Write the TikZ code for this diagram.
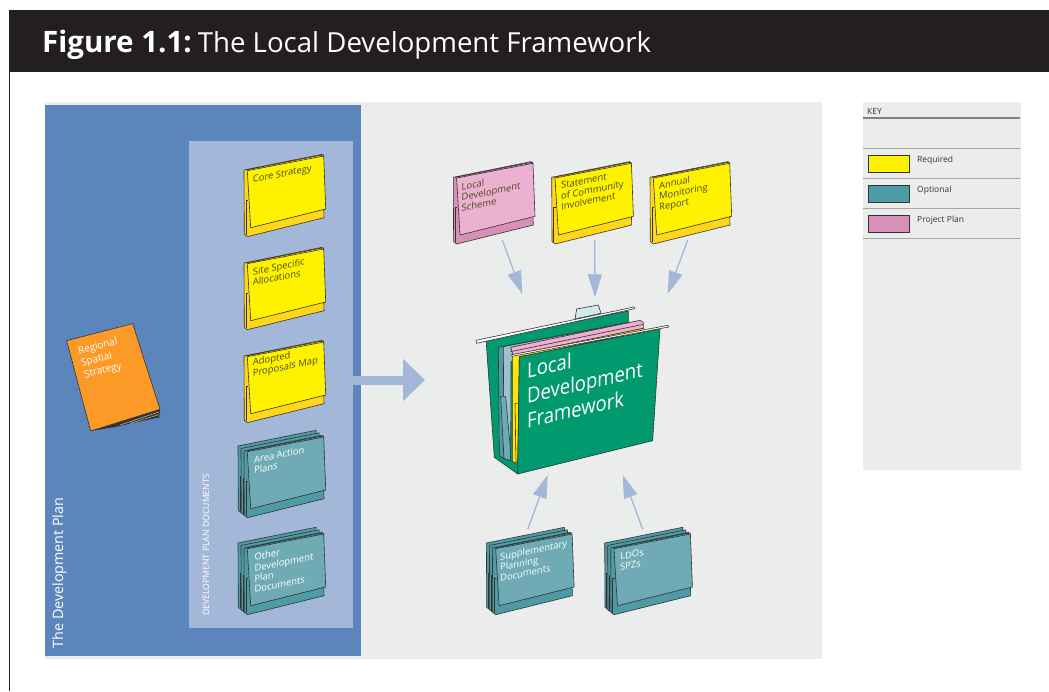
\documentclass[tikz,border=0pt]{standalone}
\usepackage{fontspec}
\setmainfont{Open Sans}
\usetikzlibrary{arrows.meta}
\definecolor{hdr}{HTML}{231F20}
\definecolor{panel}{HTML}{EBEDED}
\definecolor{dpblue}{HTML}{5C86BB}
\definecolor{docblue}{HTML}{A3B7D9}
\definecolor{yfront}{HTML}{FFF200}
\definecolor{yback}{HTML}{FFD619}
\definecolor{tfront}{HTML}{6FABB5}
\definecolor{tback}{HTML}{4E9BA5}
\definecolor{pfront}{HTML}{ECB0D0}
\definecolor{pback}{HTML}{D88FB8}
\definecolor{orng}{HTML}{FC9A28}
\definecolor{fgreen}{HTML}{009A6E}
\definecolor{ink}{HTML}{333333}
\definecolor{ytext}{HTML}{4A4A20}
\definecolor{tabcol}{HTML}{D5E8E8}
\definecolor{sheetgrey}{HTML}{9FC0C8}
\tikzset{
  edge/.style={draw=ink,line width=0.6pt,line join=round},
  doclabel/.style={anchor=north west,inner sep=0pt,yslant=0.2,align=left,font=\fontsize{9.4}{10.6}\selectfont},
  darklabel/.style={doclabel,text=ytext},
  lightlabel/.style={doclabel,text=white},
  flow/.style={draw=docblue,line width=1.3pt,-{Triangle[length=23pt,width=14pt]}},
  keyrule/.style={draw=gray!70,line width=0.7pt},
  swatch/.style={draw=ink,line width=1pt,minimum width=41pt,minimum height=17pt,inner sep=0pt,anchor=north west},
  keytext/.style={anchor=west,inner sep=0pt,text=ink,font=\fontsize{8.5}{10}\selectfont}
}
\newcommand{\docback}[1]{%
  \filldraw[edge,fill=#1] (0,16) -- (78,0.3) -- (80,63.7) -- (3.3,82.7) -- (0.3,80.3) -- cycle;
  \draw[edge] (1.8,46) -- (3.9,46) (1.8,46) -- (1.8,81);}
\newcommand{\docfolder}[4]{%
  \begin{scope}[shift={(#1,#2)}]
    \docback{#3}
    \draw[edge] (1.8,16) -- (79,0.8) -- (79.7,2);
    \filldraw[edge,fill=#4] (3.3,16.7) -- (79.7,2) -- (81.7,55) -- (6.7,73.7) -- cycle;
  \end{scope}}
\newcommand{\tripfolder}[4]{%
  \begin{scope}[shift={(#1,#2)}]
    \begin{scope}[shift={(-6,-5)}]\docback{#3}\end{scope}
    \begin{scope}[shift={(-3,-2.5)}]\docback{#3}\end{scope}
  \end{scope}
  \docfolder{#1}{#2}{#3}{#4}}
\begin{document}
\begin{tikzpicture}[x=1pt,y=-1pt]
\useasboundingbox (0,0) rectangle (1049,691);
\fill[white] (0,0) rectangle (1049,691);
% header
\fill[hdr] (10,10) rectangle (1049,72);
\draw[hdr,line width=1pt] (9.5,10) -- (9.5,691);
\node[anchor=base west,inner sep=0pt,text=white,font=\fontsize{27.6}{30}\selectfont] (title) at (42,52) {{\fontsize{29.5}{30}\selectfont\bfseries Figure 1.1:}\hspace{-3.5pt} The Local Development Framework};
% panels
\fill[panel] (45,102) rectangle (822,659);
\fill[dpblue] (45,105) rectangle (361,656);
\fill[docblue] (189,141) rectangle (353,628);
\node[rotate=90,anchor=base west,inner sep=0pt,text=white,font=\fontsize{14.3}{16}\selectfont] (dplan) at (63,648.5) {The Development Plan};
\node[rotate=90,anchor=base west,inner sep=0pt,text=white,font=\fontsize{8.7}{10}\selectfont] (dpd) at (209,616) {DEVELOPMENT PLAN DOCUMENTS};
% regional spatial strategy
\begin{scope}[shift={(50,310)},x=0.3333pt,y=-0.3333pt]
  \fill[ink] (122,363) -- (330,298) -- (328,322) -- (190,352) -- cycle;
  \draw[white!75!black,line width=0.5pt] (210,345) -- (327,306);
  \draw[white!75!black,line width=0.5pt] (240,340) -- (327,314);
  \filldraw[edge,fill=orng] (50,92) -- (248,41) -- (330,298) -- (122,363) -- cycle;
\end{scope}
\node[anchor=north west,inner sep=0pt,rotate=14,align=left,text=white,font=\fontsize{10}{12.4}\selectfont] (rss) at (77,346.5) {Regional\\Spatial\\Strategy};
% development plan documents
\docfolder{244}{154}{yback}{yfront}
\docfolder{244}{247}{yback}{yfront}
\docfolder{244}{340}{yback}{yfront}
\tripfolder{244}{435}{tback}{tfront}
\tripfolder{244}{532}{tback}{tfront}
\node[darklabel] (core) at (252.7,176) {Core Strategy};
\node[darklabel] (site) at (252.7,268) {Site Specific\\Allocations};
\node[darklabel] (adopted) at (252.7,358.5) {Adopted\\Proposals Map};
\node[lightlabel] (aap) at (254,456) {Area Action\\Plans};
\node[lightlabel] (other) at (254.3,553.5) {Other\\Development\\Plan\\Documents};
% top row
\docfolder{453.3}{161.3}{pback}{pfront}
\docfolder{551.7}{161.3}{yback}{yfront}
\docfolder{650}{161.3}{yback}{yfront}
\node[darklabel] (lds) at (461.5,183) {Local\\Development\\Scheme};
\node[darklabel] (sci) at (561,182) {Statement\\of Community\\Involvement};
\node[darklabel] (amr) at (659,182) {Annual\\Monitoring\\Report};
% bottom row
\tripfolder{492.4}{532}{tback}{tfront}
\tripfolder{610.7}{532}{tback}{tfront}
\node[lightlabel] (spd) at (500,553) {Supplementary\\Planning\\Documents};
\node[lightlabel] (ldo) at (620,553) {LDOs\\SPZs};
% main folder
\begin{scope}[shift={(465,295)},x=0.3333pt,y=-0.3333pt]
  \filldraw[edge,fill=tabcol] (330,72) -- (335,42) -- (400,30) -- (408,55) -- cycle;
  \filldraw[edge,fill=fgreen] (63,132) -- (490,48) -- (490,100) -- (158,537) -- (88,487) -- cycle;
  \filldraw[edge,fill=white] (33,136) -- (507,36) -- (509,41) -- (34,145) -- cycle;
  \filldraw[edge,fill=tback] (100,157) -- (490,82) -- (490,110) -- (115,200) -- (118,492) -- (103,482) -- cycle;
  \filldraw[edge,fill=sheetgrey] (115,155) -- (510,80) -- (510,110) -- (138,200) -- (137,497) -- (117,490) -- cycle;
  \filldraw[edge,fill=tfront] (107,305) -- (122,305) -- (135,450) -- (137,497) -- (117,490) -- cycle;
  \filldraw[edge,fill=pfront] (137,157) -- (525,76) -- (535,82) -- (535,100) -- (145,182) -- cycle;
  \draw[edge] (137,170) -- (535,88);
  \filldraw[edge,fill=yfront!50!yback] (142,180) -- (535,100) -- (535,106) -- (163,188) -- (158,505) -- (142,500) -- cycle;
  \draw[edge] (150,325) -- (158,325) (150,325) -- (153,503);
  \filldraw[edge,fill=fgreen] (163,185) -- (585,102) -- (563,437) -- (158,537) -- cycle;
  \filldraw[edge,fill=white] (140,179) -- (609,91) -- (611,96) -- (141,184) -- cycle;
\end{scope}
\node[anchor=north west,inner sep=0pt,xscale=0.88,yslant=0.2,align=left,text=white,font=\fontsize{21}{25}\selectfont] (ldf) at (527,362) {Local\\Development\\Framework};
% connectors
\coordinate (a1s) at (502.3,240); \coordinate (a1e) at (522.3,294);
\coordinate (a2s) at (594.7,240); \coordinate (a2e) at (595,297.3);
\coordinate (a3s) at (687.7,240); \coordinate (a3e) at (667.7,294);
\coordinate (a4s) at (527.7,529.3); \coordinate (a4e) at (547.7,475);
\coordinate (a5s) at (642.7,529.3); \coordinate (a5e) at (622.7,475);
\coordinate (a6s) at (352,380); \coordinate (a6e) at (425,380);
\draw[flow] (a1s) -- (a1e);
\draw[flow] (a2s) -- (a2e);
\draw[flow] (a3s) -- (a3e);
\draw[flow] (a4s) -- (a4e);
\draw[flow] (a5s) -- (a5e);
\draw[draw=docblue,line width=9pt,-{Triangle[length=22pt,width=41pt]}] (a6s) -- (a6e);
% key
\fill[panel] (863,102) rectangle (1021,470);
\node[anchor=west,inner sep=0pt,text=ink,font=\fontsize{8.5}{10}\selectfont] (keyt) at (867,111) {KEY};
\draw[draw=gray,line width=1.2pt] (862.5,118) -- (1020,118);
\draw[keyrule] (862.5,148.3) -- (1020,148.3);
\draw[keyrule] (862.5,178.3) -- (1020,178.3);
\draw[keyrule] (862.5,208.3) -- (1020,208.3);
\draw[keyrule] (862.5,238.3) -- (1020,238.3);
\node[swatch,fill=yfront] (k1) at (868,155) {};
\node[swatch,fill=tback] (k2) at (868,185) {};
\node[swatch,fill=pback] (k3) at (868,214.5) {};
\node[keytext] (k1t) at (917,160.5) {Required};
\node[keytext] (k2t) at (917,190.5) {Optional};
\node[keytext] (k3t) at (917,220.5) {Project Plan};
\end{tikzpicture}
\end{document}
